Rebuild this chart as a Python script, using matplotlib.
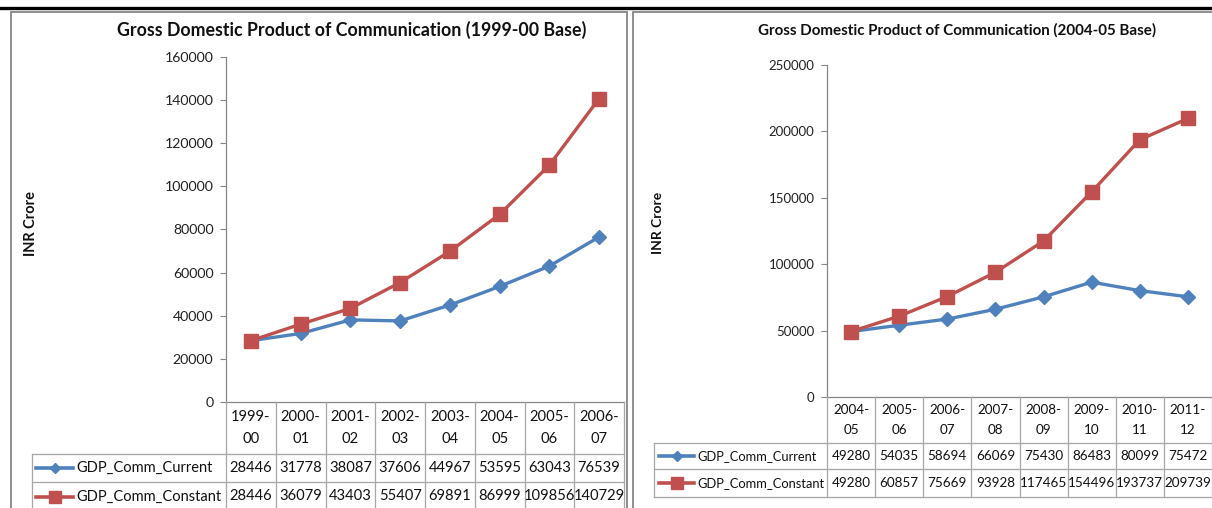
import matplotlib
matplotlib.use("Agg")
import matplotlib.pyplot as plt
from matplotlib import transforms
from matplotlib.lines import Line2D
from matplotlib.patches import Rectangle

plt.rcParams['font.family'] = ['Lato', 'DejaVu Sans']

# ---------------- data ----------------
cats_1999 = ["1999-\n00", "2000-\n01", "2001-\n02", "2002-\n03",
             "2003-\n04", "2004-\n05", "2005-\n06", "2006-\n07"]
current_1999 = [28446, 31778, 38087, 37606, 44967, 53595, 63043, 76539]
constant_1999 = [28446, 36079, 43403, 55407, 69891, 86999, 109856, 140729]
yticks_1999 = [0, 20000, 40000, 60000, 80000, 100000, 120000, 140000, 160000]

cats_2004 = ["2004-\n05", "2005-\n06", "2006-\n07", "2007-\n08",
             "2008-\n09", "2009-\n10", "2010-\n11", "2011-\n12"]
current_2004 = [49280, 54035, 58694, 66069, 75430, 86483, 80099, 75472]
constant_2004 = [49280, 60857, 75669, 93928, 117465, 154496, 193737, 209739]
yticks_2004 = [0, 50000, 100000, 150000, 200000, 250000]

series_names = ["GDP_Comm_Current", "GDP_Comm_Constant"]
titles = ["Gross Domestic Product of Communication (1999-00 Base)",
          "Gross Domestic Product of Communication (2004-05 Base)"]
ylabel = "INR Crore"

BLUE = "#4F81BD"
RED = "#C0504D"
AXC = "#868686"
GRID = "#A6A6A6"

W, H = 1212, 508
fig = plt.figure(figsize=(W / 100, H / 100), dpi=100)
fig.patch.set_facecolor("white")


def fx(x):
    return x / W


def fy(y):
    return 1 - y / H


def chart(left, right, top, bottom, cats, cur, con, yticks,
          title, title_xy, title_fs, ylab_xy, ylab_fs, tick_fs,
          rows, leg_left, leg_line, leg_text_x, txt_fs, leg_fs, cat_ls):
    ax = fig.add_axes([fx(left), fy(bottom), fx(right) - fx(left), fy(top) - fy(bottom)])
    x = list(range(len(cats)))
    ax.plot(x, cur, color=BLUE, lw=2.4, marker="D", ms=7.5, mec=BLUE, mfc=BLUE, zorder=3, clip_on=False)
    ax.plot(x, con, color=RED, lw=2.4, marker="s", ms=9.5, mec=RED, mfc=RED, zorder=4, clip_on=False)
    ax.set_xlim(-0.5, len(cats) - 0.5)
    ax.set_ylim(yticks[0], yticks[-1])
    ax.set_yticks(yticks)
    ax.set_yticklabels([str(v) for v in yticks], fontsize=tick_fs, color="#222222")
    ax.set_xticks([])
    for s in ("top", "right"):
        ax.spines[s].set_visible(False)
    for s in ("left", "bottom"):
        ax.spines[s].set_color(AXC)
        ax.spines[s].set_linewidth(0.9)
    ax.tick_params(axis="y", direction="out", length=4, width=0.8, color=AXC, pad=5)
    ax.patch.set_alpha(0)

    fig.text(fx(title_xy[0]), fy(title_xy[1]), title, ha="center", va="center",
             fontsize=title_fs, fontweight="bold", color="#111111")
    fig.text(fx(ylab_xy[0]), fy(ylab_xy[1]), ylabel, ha="center", va="center",
             rotation=90, fontsize=ylab_fs, fontweight="bold", color="#111111")

    # data table
    bt = transforms.blended_transform_factory(ax.transData, fig.transFigure)
    r_cat_bot, r1_bot, r2_bot = rows
    n = len(cats)
    for i in range(n + 1):
        fig.add_artist(Line2D([i - 0.5, i - 0.5], [fy(bottom), fy(r2_bot)], transform=bt,
                              color=GRID, lw=0.9))
    xr = fx(right)
    for yy in (r_cat_bot, r1_bot, r2_bot):
        fig.add_artist(Line2D([fx(leg_left), xr], [fy(yy), fy(yy)], transform=fig.transFigure,
                              color=GRID, lw=0.9))
    fig.add_artist(Line2D([fx(leg_left), fx(leg_left)], [fy(r_cat_bot), fy(r2_bot)],
                          transform=fig.transFigure, color=GRID, lw=0.9))
    cy = fy((bottom + r_cat_bot) / 2)
    for i, c in enumerate(cats):
        fig.text(i, cy, c, transform=bt, ha="center", va="center",
                 fontsize=txt_fs, linespacing=cat_ls, color="#111111")
    y1 = fy((r_cat_bot + r1_bot) / 2)
    y2 = fy((r1_bot + r2_bot) / 2)
    for i in range(n):
        fig.text(i, y1, str(cur[i]), transform=bt, ha="center", va="center",
                 fontsize=txt_fs, color="#111111")
        fig.text(i, y2, str(con[i]), transform=bt, ha="center", va="center",
                 fontsize=txt_fs, color="#111111")
    for yy, col, mk, ms, name in ((y1, BLUE, "D", 5, series_names[0]),
                                 (y2, RED, "s", 8.5, series_names[1])):
        fig.add_artist(Line2D([fx(leg_line[0]), fx(leg_line[1])], [yy, yy],
                              transform=fig.transFigure, color=col, lw=2.6))
        fig.add_artist(Line2D([fx((leg_line[0] + leg_line[1]) / 2)], [yy],
                              transform=fig.transFigure, color=col, marker=mk, ms=ms, lw=0))
        fig.text(fx(leg_text_x), yy, name, ha="left", va="center", fontsize=leg_fs,
                 color="#111111")
    return ax


chart(226, 624, 57, 402, cats_1999, current_1999, constant_1999, yticks_1999,
      titles[0], (352, 30), 12.8, (31, 223), 10.5, 10.2,
      (454, 482, 511), 32, (36, 73), 76, 10.6, 10.5, 1.65)

chart(827, 1212, 65, 397, cats_2004, current_2004, constant_2004, yticks_2004,
      titles[1], (957, 30), 10.9, (658, 223), 10, 9.5,
      (443, 469, 497), 654, (659, 694), 697, 9.7, 9.3, 1.7)

fig.add_artist(Rectangle((fx(11), fy(530)), fx(627) - fx(11), fy(12) - fy(530),
                         transform=fig.transFigure, fill=False, ec=AXC, lw=1.3))
fig.add_artist(Rectangle((fx(633), fy(530)), fx(1230) - fx(633), fy(12) - fy(530),
                         transform=fig.transFigure, fill=False, ec=AXC, lw=1.3))
fig.add_artist(Line2D([0, 1], [fy(8), fy(8)], transform=fig.transFigure, color="black", lw=2.4))

fig.savefig("out.png", dpi=100, facecolor="white")
